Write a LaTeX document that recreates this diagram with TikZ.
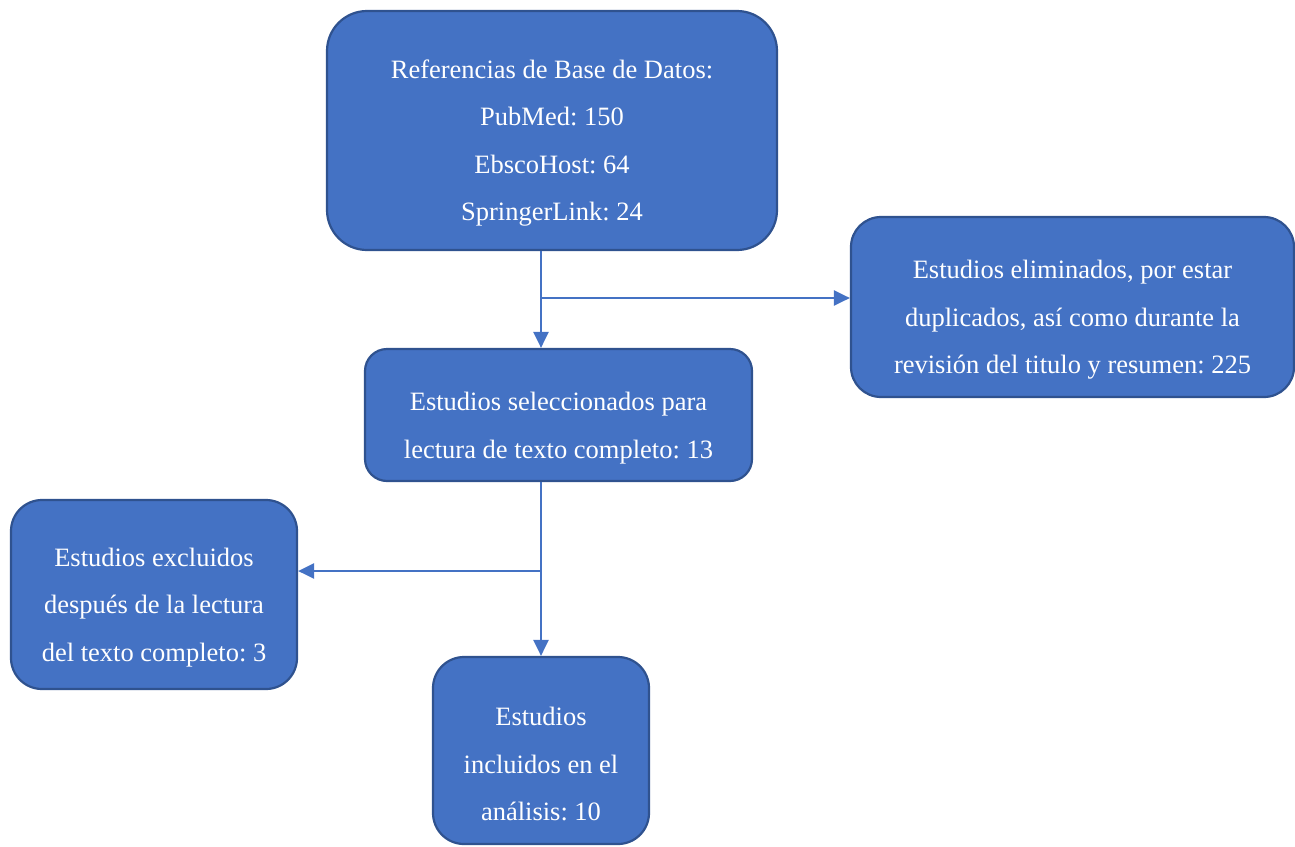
\documentclass[tikz,border=0pt]{standalone}
\usepackage{fontspec}
\setmainfont{Liberation Serif}
\usetikzlibrary{arrows.meta}
\frenchspacing
\definecolor{boxfill}{HTML}{4472C4}
\definecolor{boxedge}{HTML}{2F528F}
\tikzset{
  flowbox/.style={draw=boxedge, fill=boxfill, line width=2.2pt, inner sep=0pt},
  flowtext/.style={text=white, align=center, inner sep=0pt, font=\fontsize{26.5}{47.5}\selectfont},
  flowarrow/.style={draw=boxfill, line width=2.4pt, -{Triangle[length=16pt,width=15pt]}},
}
\begin{document}
\begin{tikzpicture}[x=1pt,y=-1pt]
\useasboundingbox (0,0) rectangle (1295,846);
% boxes
\node[flowbox, rounded corners=40pt, minimum width=450pt, minimum height=239pt] (top) at (552,130.5) {};
\node[flowtext] (toptext) at (552,143) {Referencias de Base de Datos:\\PubMed: 150\\EbscoHost: 64\\SpringerLink: 24};
\node[flowbox, rounded corners=30pt, minimum width=443pt, minimum height=180pt] (right) at (1072.5,307) {};
\node[flowtext] (righttext) at (1072.5,320) {Estudios eliminados, por estar\\duplicados, así como durante la\\revisión del titulo y resumen: 225};
\node[flowbox, rounded corners=22pt, minimum width=387pt, minimum height=132pt] (mid) at (558.5,415) {};
\node[flowtext] (midtext) at (558.5,428) {Estudios seleccionados para\\lectura de texto completo: 13};
\node[flowbox, rounded corners=31pt, minimum width=286pt, minimum height=189pt] (left) at (154,594.5) {};
\node[flowtext] (lefttext) at (154,607.5) {Estudios excluidos\\después de la lectura\\del texto completo: 3};
\node[flowbox, rounded corners=31pt, minimum width=216pt, minimum height=187pt] (bottom) at (541,750.5) {};
\node[flowtext] (bottomtext) at (541,764) {Estudios\\incluidos en el\\análisis: 10};
% junctions
\coordinate (j1) at (541,298);
\coordinate (j2) at (541,571);
% connectors
\draw[flowarrow] (top.south -| j1) -- (mid.north -| j1);
\draw[flowarrow] (j1) -- (right.west |- j1);
\draw[flowarrow] (mid.south -| j2) -- (bottom.north -| j2);
\draw[flowarrow] (j2) -- (left.east |- j2);
\end{tikzpicture}
\end{document}
